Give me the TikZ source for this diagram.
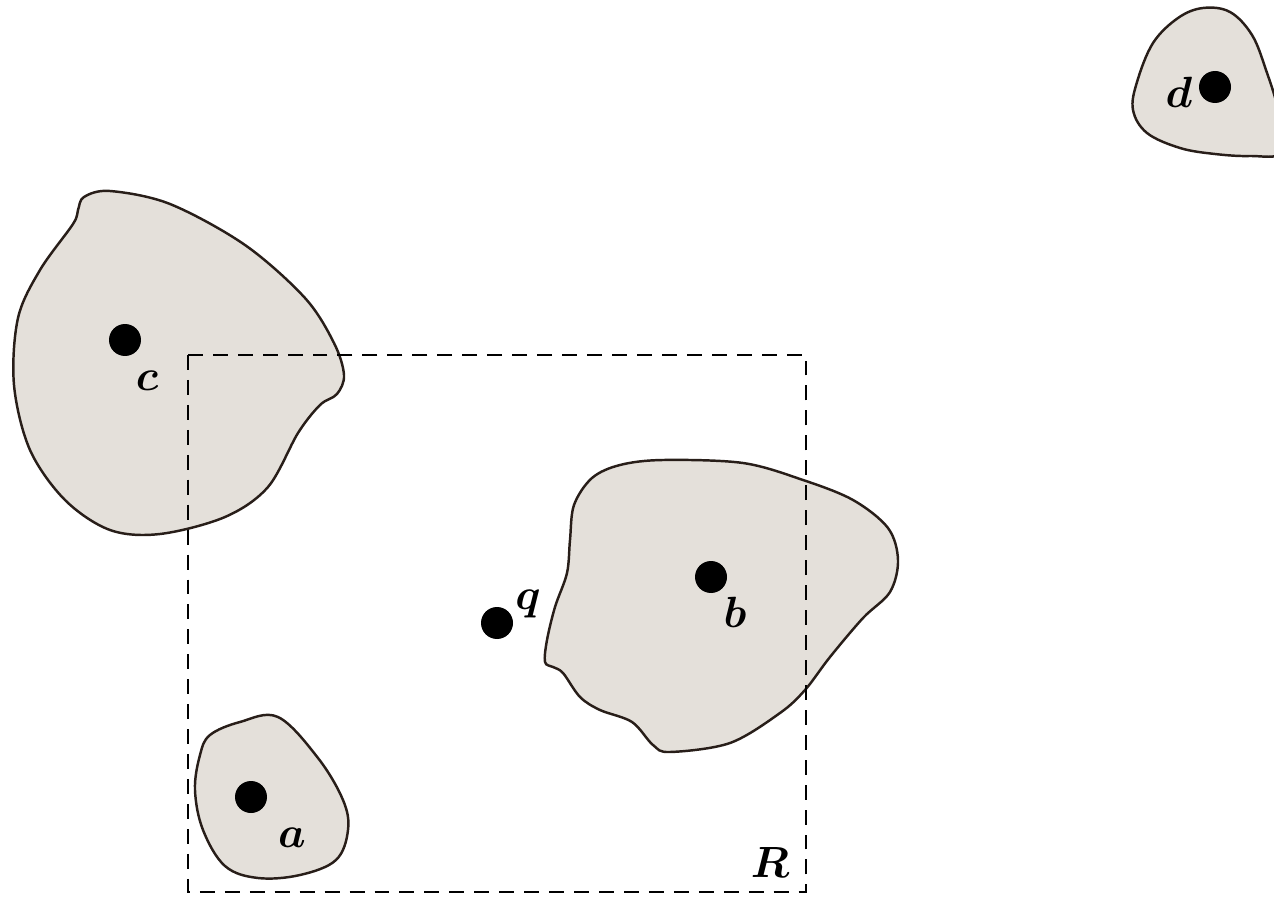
\documentclass[tikz,border=0pt]{standalone}
\usepackage{amsmath,amssymb}
\usepackage{tikz}

\definecolor{blobfill}{RGB}{228,224,218}
\definecolor{blobline}{RGB}{40,30,25}
\tikzset{
  blob/.style={fill=blobfill,draw=blobline,line width=1.4pt},
  site/.style={circle,fill=black,inner sep=0pt,minimum size=0.64cm},
  lbl/.style={inner sep=0pt,font=\fontsize{23}{27}\selectfont},
  region/.style={draw=black,line width=1.6pt,dash pattern=on 8.5pt off 5.7pt}
}

\begin{document}
\begin{tikzpicture}[x=0.02cm,y=-0.02cm]
\useasboundingbox (0,0) rectangle (1274,898);
\begin{scope}
  \clip (0,0) rectangle (1274,898);
  \draw[blob] plot[smooth cycle,tension=0.55] coordinates {(110,191) (170,204) (245,245) (305,298) (334,343) (344,375) (337,394) (320,405) (298,433) (268,487) (225,517) (160,534) (110,530) (65,500) (30,450) (14,385) (18,318) (40,270) (73,224) (78,210) (84,197)};
  \draw[blob] plot[smooth cycle,tension=0.6] coordinates {(1203,8) (1230,12) (1252,35) (1266,70) (1278,110) (1282,152) (1250,156) (1215,154) (1180,148) (1147,133) (1133,110) (1137,82) (1153,43) (1178,18)};
  \draw[blob] plot[smooth cycle,tension=0.55] coordinates {(663,460) (743,463) (803,480) (853,500) (888,528) (898,560) (890,592) (863,618) (830,657) (805,690) (780,713) (730,743) (670,752) (653,745) (632,722) (600,710) (580,697) (563,673) (553,667) (545,662) (547,640) (555,607) (567,573) (570,540) (574,505) (592,478) (620,465)};
  \draw[blob] plot[smooth cycle,tension=0.6] coordinates {(278,717) (318,758) (343,800) (348,830) (336,860) (300,875) (258,878) (225,866) (203,830) (195,790) (200,755) (210,735) (240,722)};
\end{scope}
\draw[region] (188,355) rectangle (806,892);
\node[site] (a) at (251,797) {};
\node[site] (b) at (711,577) {};
\node[site] (c) at (125,340) {};
\node[site] (d) at (1215,87) {};
\node[site] (q) at (497,623) {};
\node[lbl] (la) at (292,838) {$\boldsymbol{a}$};
\node[lbl] (lb) at (735,612) {$\boldsymbol{b}$};
\node[lbl] (lc) at (147,381) {$\boldsymbol{c}$};
\node[lbl] (ld) at (1179,92) {$\boldsymbol{d}$};
\node[lbl] (lq) at (528,604) {$\boldsymbol{q}$};
\node[lbl] (lR) at (770,862) {$\boldsymbol{R}$};
\end{tikzpicture}
\end{document}
